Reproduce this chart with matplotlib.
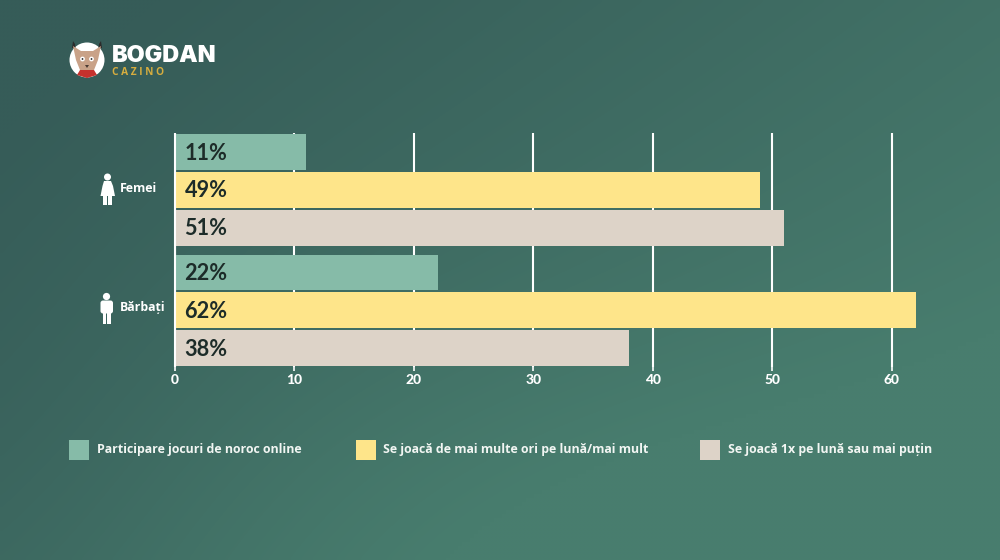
import numpy as np
import matplotlib
matplotlib.use("Agg")
import matplotlib.pyplot as plt
from matplotlib.patches import Circle, Polygon, Rectangle, FancyBboxPatch, Ellipse

groups = ["Femei", "Bărbați"]
series_names = ["Participare jocuri de noroc online",
                "Se joacă de mai multe ori pe lună/mai mult",
                "Se joacă 1x pe lună sau mai puțin"]
online = [11, 22]
frequent = [49, 62]
rare = [51, 38]
xticks = [0, 10, 20, 30, 40, 50, 60]
colors = ["#86bba8", "#fee58a", "#ddd3c8"]

W, H = 1000, 560
fig = plt.figure(figsize=(W/100, H/100), dpi=100)

# background gradient
bg = fig.add_axes([0, 0, 1, 1], zorder=0)
yy, xx = np.mgrid[0:1:140j, 0:1:250j]
t = np.clip(0.75*xx + 0.55*yy - 0.12, 0, 1)
t = t + 0.25*np.exp(-((xx-0.55)**2/0.25 + (yy-1.0)**2/0.2)) - 0.12*np.exp(-((xx-0.0)**2/0.05+(yy-0.85)**2/0.2))
t = np.clip(t, 0, 1)
c0 = np.array([0x36, 0x5c, 0x58])/255
c1 = np.array([0x48, 0x7d, 0x6e])/255
bg.imshow(c0 + (c1-c0)*t[..., None], extent=[0, W, H, 0], aspect="auto", interpolation="bilinear")
bg.set_xlim(0, W); bg.set_ylim(H, 0); bg.axis("off")

# chart axes
left, right = 175, 960
top, bottom = 133, 367
ax = fig.add_axes([left/W, 1-bottom/H, (right-left)/W, (bottom-top)/H], zorder=2)
ax.patch.set_alpha(0)
unit = 11.945
ax.set_xlim(0, (right-left)/unit)
pitch = 37.9
cy = 189.8
ax.set_ylim((bottom-cy)/pitch, (top-cy)/pitch)
centers = [0, 3.18]
for i, vals in enumerate([online, frequent, rare]):
    ys = [c + (i-1) for c in centers]
    ax.barh(ys, vals, height=0.945, color=colors[i], zorder=3)
    for y, v in zip(ys, vals):
        ax.text(0.8, y + 0.03, f"{v}%", va="center", ha="left", fontsize=15.6,
                family="Lato", fontweight="bold", color="#1d2c29", zorder=5)
for x in xticks:
    ax.plot([x, x], [(bottom-cy)/pitch, (top-cy)/pitch], color="white", lw=1.5, zorder=2, solid_capstyle="butt")
ax.plot([0, 0], [(bottom-cy)/pitch, (top-cy)/pitch], color="white", lw=1.5, zorder=4, solid_capstyle="butt", clip_on=False)
for s in ax.spines.values():
    s.set_visible(False)
ax.set_xticks(xticks)
ax.set_xticklabels([str(x) for x in xticks], family="Lato", fontweight="black", fontsize=10, color="white")
ax.tick_params(axis="x", color="white", length=3, width=1.2, pad=1.8)
ax.set_yticks([])

# overlay in pixel coordinates
ov = fig.add_axes([0, 0, 1, 1], zorder=3)
ov.set_xlim(0, W); ov.set_ylim(H, 0); ov.axis("off"); ov.patch.set_alpha(0)

for y, g in zip([188.5, 308], groups):
    ov.text(120, y, g, family="Open Sans", fontweight="bold", fontsize=8.9, color="white", va="center", ha="left")

# person icons
ov.add_patch(Circle((107.5, 177), 3.5, color="white", lw=0))
ov.add_patch(Polygon([(104,181),(111,181),(113,186),(115,196),(100.5,196),(102.5,186)], closed=True, color="white", lw=0))
ov.add_patch(Rectangle((103.3,195), 3.6, 10, color="white", lw=0))
ov.add_patch(Rectangle((108.2,195), 3.6, 10, color="white", lw=0))
ov.add_patch(Circle((106.5, 296.5), 3.6, color="white", lw=0))
ov.add_patch(FancyBboxPatch((100.5,300.5), 12.5, 13, boxstyle="round,pad=0,rounding_size=2.5", color="white", lw=0))
ov.add_patch(Rectangle((102.8,310), 3.6, 14, color="white", lw=0))
ov.add_patch(Rectangle((107.2,310), 3.6, 14, color="white", lw=0))

# legend
for x, c, name, tx in zip([69, 356, 700], colors, series_names, [97, 383, 728]):
    ov.add_patch(Rectangle((x, 440), 20, 20, color=c, lw=0))
    ov.text(tx, 450, name, family="Open Sans", fontweight="bold", fontsize=8.9, color="#f2f6f3", va="center", ha="left")

# logo
ov.add_patch(Circle((87, 60), 17.5, color="white", lw=0))
ov.add_patch(Polygon([(73,41),(75,44),(75.5,48),(72,48)], closed=True, color="#2b2b2b", lw=0))
ov.add_patch(Polygon([(101,41),(99,44),(98.5,48),(102,48)], closed=True, color="#2b2b2b", lw=0))
ov.add_patch(Polygon([(73,46),(81,51),(93,51),(101,46),(98,60),(94,70),(80,70),(76,60)], closed=True, color="#c9a288", lw=0))
ov.add_patch(Polygon([(80,70),(94,70),(97,75),(87,78),(77,75)], closed=True, color="#c5312d", lw=0))
ov.add_patch(Circle((82.5,59), 2.4, color="white", lw=0))
ov.add_patch(Circle((91.5,59), 2.4, color="white", lw=0))
ov.add_patch(Circle((82.5,59), 0.9, color="#2b2b2b", lw=0))
ov.add_patch(Circle((91.5,59), 0.9, color="#2b2b2b", lw=0))
ov.add_patch(Polygon([(85,65),(89,65),(87,68)], closed=True, color="#4a3a32", lw=0))
ov.text(112, 56.5, "BOGDAN", family="Inter", fontweight="black", fontsize=16.8, color="white", va="center", ha="left")
ov.text(112, 72.5, "C A Z I N O", family="Open Sans", fontweight="bold", fontsize=7.3, color="#d6ad3f", va="center", ha="left")

fig.savefig("out.png", dpi=100)
